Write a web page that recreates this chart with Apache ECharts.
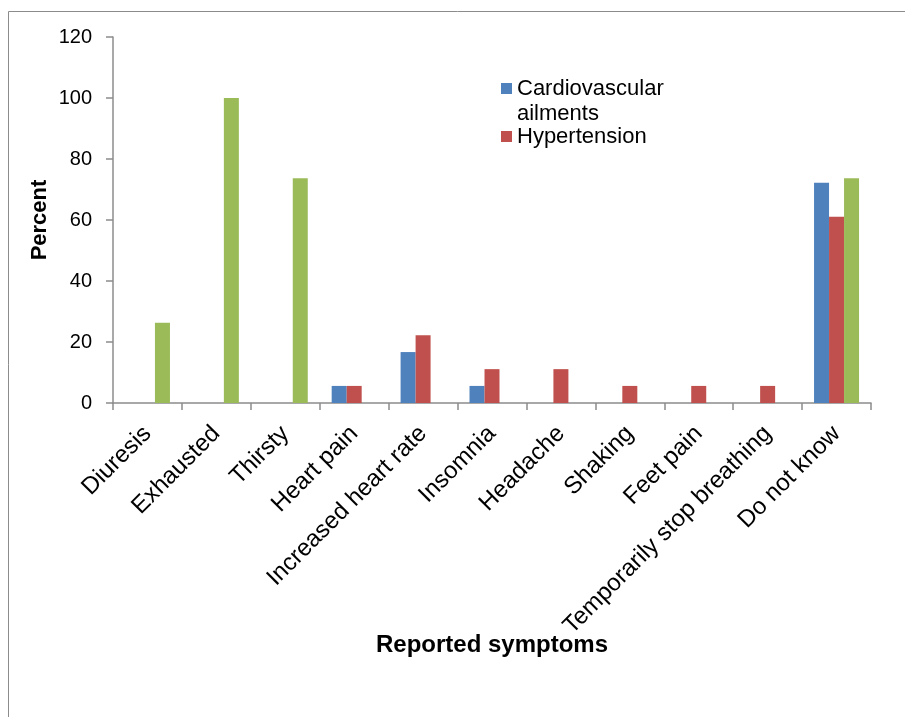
<!DOCTYPE html>
<html><head><meta charset="utf-8">
<script src="https://cdn.jsdelivr.net/npm/echarts@6/dist/echarts.min.js"></script>
<style>html,body{margin:0;padding:0;background:#fff}#c{width:905px;height:717px}</style>
</head><body><div id="c"></div>
<script>
var categories = ['Diuresis','Exhausted','Thirsty','Heart pain','Increased heart rate','Insomnia','Headache','Shaking','Feet pain','Temporarily stop breathing','Do not know'];
var cardiovascular = [null,null,null,5.6,16.7,5.6,null,null,null,null,72.2];
var hypertension = [null,null,null,5.6,22.2,11.1,11.1,5.6,5.6,5.6,61.1];
var diabetes = [26.3,100,73.7,null,null,null,null,null,null,null,73.7];
var yTicks = [0,20,40,60,80,100,120];

var chart = echarts.init(document.getElementById('c'));
var font = 'Liberation Sans, Arial, sans-serif';
chart.setOption({
  animation:false,
  textStyle:{fontFamily:font},
  graphic:[{type:'rect',shape:{x:8.5,y:11.5,width:910,height:720},style:{fill:'none',stroke:'#8c8c8c',lineWidth:1}}],
  grid:{left:113,right:34,top:37,bottom:314,containLabel:false},
  legend:[{
    data:['Cardiovascular ailments'],
    orient:'vertical',left:496,top:46,itemWidth:11,itemHeight:11,
    icon:'rect',
    formatter:function(n){return ' \nCardiovascular\nailments';},
    textStyle:{fontSize:22,color:'#000',fontFamily:font,lineHeight:25}
  },{
    data:['Hypertension'],
    orient:'vertical',left:496,top:119,itemWidth:11,itemHeight:11,
    icon:'rect',
    textStyle:{fontSize:22,color:'#000',fontFamily:font,lineHeight:25}
  }],
  xAxis:{
    type:'category',data:categories,
    name:'Reported symptoms',nameLocation:'middle',nameGap:230,nameMoveOverlap:false,
    nameTextStyle:{fontSize:24,fontWeight:'bold',color:'#000',fontFamily:font},
    axisLine:{lineStyle:{color:'#8c8c8c',width:1.5}},
    axisTick:{show:true,alignWithLabel:false,length:7,lineStyle:{color:'#8c8c8c',width:1.5}},
    axisLabel:{rotate:45,fontSize:24,color:'#000',fontFamily:font,interval:0,margin:27}
  },
  yAxis:{
    type:'value',min:0,max:120,interval:20,
    name:'Percent',nameLocation:'middle',nameGap:62,nameMoveOverlap:false,
    nameTextStyle:{fontSize:22,fontWeight:'bold',color:'#000',fontFamily:font},
    axisLine:{show:true,lineStyle:{color:'#8c8c8c',width:1.5}},
    axisTick:{show:true,length:7,lineStyle:{color:'#8c8c8c',width:1.5}},
    splitLine:{show:false},
    axisLabel:{fontSize:20,color:'#000',fontFamily:font,margin:21,
      formatter:function(v){return yTicks.indexOf(v)>=0?String(v):'';}}
  },
  series:[
    {name:'Cardiovascular ailments',type:'bar',data:cardiovascular,barWidth:15,barGap:'0%',itemStyle:{color:'#4F81BD'}},
    {name:'Hypertension',type:'bar',data:hypertension,barWidth:15,barGap:'0%',itemStyle:{color:'#C0504D'}},
    {name:'Diabetes',type:'bar',data:diabetes,barWidth:15,barGap:'0%',itemStyle:{color:'#9BBB59'}}
  ]
});
</script></body></html>
